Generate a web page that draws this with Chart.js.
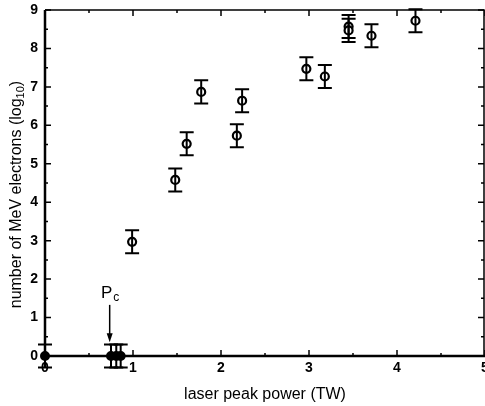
<!DOCTYPE html>
<html>
<head>
<meta charset="utf-8">
<script src="https://cdn.jsdelivr.net/npm/chart.js@4/dist/chart.umd.min.js"></script>
<style>
  html, body { margin: 0; padding: 0; background: #fff; }
  #wrap { width: 485px; height: 406px; }
</style>
</head>
<body>
<div id="wrap"><canvas id="c" width="485" height="406"></canvas></div>
<script>
// ---- data ----
const openPower = [0.99, 1.48, 1.61, 1.775, 2.18, 2.24, 2.97, 3.18, 3.45, 3.45, 3.71, 4.21];
const openElectrons = [2.97, 4.58, 5.52, 6.87, 5.73, 6.64, 7.47, 7.27, 8.57, 8.47, 8.33, 8.72];
const openErr = [0.3, 0.3, 0.3, 0.3, 0.3, 0.3, 0.3, 0.3, 0.3, 0.3, 0.3, 0.3];

const filledPower = [0.0, 0.75, 0.81, 0.86];
const filledElectrons = [0, 0, 0, 0];
const filledErr = [0.3, 0.3, 0.3, 0.3];

const xTicks = [0, 1, 2, 3, 4, 5];
const yTicks = [0, 1, 2, 3, 4, 5, 6, 7, 8, 9];

const xTitle = 'laser peak power (TW)';
const yTitleMain = 'number of MeV electrons (log';
const yTitleSub = '10';
const yTitleEnd = ')';
const annotLabel = 'P';
const annotSub = 'c';
// annotation anchor (data units)
const annot = { textX: 0.70, textY: 1.64, arrowX: 0.735, arrowFrom: 1.33, arrowTo: 0.36 };
const yTitleCenter = 4.2; // data units along y where the rotated title is centred

const FONT = '"Liberation Sans", Arial, sans-serif';
const toPts = (xs, ys) => xs.map((x, i) => ({ x: x, y: ys[i] }));

const errorBars = {
  id: 'errorBars',
  afterDatasetsDraw(chart) {
    const ctx = chart.ctx, xs = chart.scales.x, ys = chart.scales.y;
    ctx.save();
    ctx.strokeStyle = '#000';
    ctx.lineWidth = 2;
    chart.data.datasets.forEach(ds => {
      ds.data.forEach((p, i) => {
        const e = ds.errors[i];
        const px = xs.getPixelForValue(p.x);
        const y1 = ys.getPixelForValue(p.y + e);
        const y2 = ys.getPixelForValue(p.y - e);
        ctx.beginPath();
        ctx.moveTo(px, y1); ctx.lineTo(px, y2);
        ctx.moveTo(px - 7, y1); ctx.lineTo(px + 7, y1);
        ctx.moveTo(px - 7, y2); ctx.lineTo(px + 7, y2);
        ctx.stroke();
      });
    });
    ctx.restore();
  }
};

const frame = {
  id: 'frame',
  afterDraw(chart) {
    const ctx = chart.ctx, a = chart.chartArea, xs = chart.scales.x, ys = chart.scales.y;
    ctx.save();
    ctx.strokeStyle = '#000';
    // box
    ctx.lineWidth = 1.5;
    ctx.beginPath();
    ctx.moveTo(a.left, a.top); ctx.lineTo(a.right - 1, a.top); ctx.lineTo(a.right - 1, a.bottom);
    ctx.stroke();
    ctx.lineWidth = 2.5;
    ctx.beginPath();
    ctx.moveTo(a.left, a.top); ctx.lineTo(a.left, a.bottom); ctx.lineTo(a.right, a.bottom);
    ctx.stroke();
    // ticks inward
    ctx.lineWidth = 1.5;
    ctx.beginPath();
    for (let v = xs.min; v <= xs.max + 1e-9; v += 0.5) {
      const px = xs.getPixelForValue(v);
      const len = Math.abs(v - Math.round(v)) < 1e-6 ? 6 : 3;
      ctx.moveTo(px, a.bottom); ctx.lineTo(px, a.bottom - len);
      ctx.moveTo(px, a.top); ctx.lineTo(px, a.top + len);
    }
    for (let v = ys.min; v <= ys.max + 1e-9; v += 0.5) {
      const py = ys.getPixelForValue(v);
      const len = Math.abs(v - Math.round(v)) < 1e-6 ? 6 : 3;
      ctx.moveTo(a.left, py); ctx.lineTo(a.left + len, py);
      ctx.moveTo(a.right - 1, py); ctx.lineTo(a.right - 1 - len, py);
    }
    ctx.stroke();
    // annotation P_c with arrow
    const tx = xs.getPixelForValue(annot.textX), ty = ys.getPixelForValue(annot.textY);
    ctx.fillStyle = '#000';
    ctx.textBaseline = 'middle';
    ctx.textAlign = 'center';
    ctx.font = '17px ' + FONT;
    ctx.fillText(annotLabel, tx, ty);
    const w = ctx.measureText(annotLabel).width;
    ctx.font = '12px ' + FONT;
    ctx.textAlign = 'left';
    ctx.fillText(annotSub, tx + w / 2 + 1, ty + 5);
    const ax = xs.getPixelForValue(annot.arrowX);
    const ay1 = ys.getPixelForValue(annot.arrowFrom), ay2 = ys.getPixelForValue(annot.arrowTo);
    ctx.lineWidth = 1.5;
    ctx.beginPath(); ctx.moveTo(ax, ay1); ctx.lineTo(ax, ay2 - 6); ctx.stroke();
    ctx.beginPath();
    ctx.moveTo(ax, ay2); ctx.lineTo(ax - 3, ay2 - 9); ctx.lineTo(ax + 3, ay2 - 9); ctx.closePath();
    ctx.fill();

    // rotated y-axis title with subscript
    const cy = ys.getPixelForValue(yTitleCenter);
    ctx.translate(17, cy);
    ctx.rotate(-Math.PI / 2);
    ctx.textAlign = 'left';
    ctx.textBaseline = 'middle';
    const mainFont = '16px ' + FONT, subFont = '11px ' + FONT;
    ctx.font = mainFont; const w1 = ctx.measureText(yTitleMain).width;
    ctx.font = subFont; const w2 = ctx.measureText(yTitleSub).width;
    ctx.font = mainFont; const w3 = ctx.measureText(yTitleEnd).width;
    let x0 = -(w1 + w2 + w3) / 2;
    ctx.font = mainFont; ctx.fillText(yTitleMain, x0, 0); x0 += w1;
    ctx.font = subFont; ctx.fillText(yTitleSub, x0, 4); x0 += w2;
    ctx.font = mainFont; ctx.fillText(yTitleEnd, x0, 0);
    ctx.restore();
  }
};

const tickFont = { family: FONT, size: 14, weight: 'bold' };
const titleFont = { family: FONT, size: 16, weight: 'normal' };

new Chart(document.getElementById('c'), {
  type: 'scatter',
  data: {
    datasets: [
      {
        data: toPts(openPower, openElectrons), errors: openErr,
        pointRadius: 4, pointBorderWidth: 2.2, borderColor: '#000', backgroundColor: '#fff',
        pointHoverRadius: 4, showLine: false, clip: false
      },
      {
        data: toPts(filledPower, filledElectrons), errors: filledErr,
        pointRadius: 4, pointBorderWidth: 2, borderColor: '#000', backgroundColor: '#000',
        pointHoverRadius: 4, showLine: false, clip: false
      }
    ]
  },
  options: {
    responsive: false,
    animation: false,
    events: [],
    layout: { autoPadding: false, padding: { top: 10, right: 0, left: 0, bottom: 0 } },
    plugins: { legend: { display: false }, tooltip: { enabled: false } },
    scales: {
      x: {
        type: 'linear', min: 0, max: 5,
        afterBuildTicks: s => { s.ticks = xTicks.map(v => ({ value: v })); },
        afterFit: s => { s.height = 50; s.paddingLeft = 0; s.paddingRight = 0; },
        ticks: { color: '#000', font: tickFont, padding: 4, maxRotation: 0, autoSkip: false },
        grid: { display: false, drawTicks: false },
        border: { display: false },
        title: { display: true, text: xTitle, color: '#000', font: titleFont, padding: { top: 0, bottom: 2 } }
      },
      y: {
        type: 'linear', min: 0, max: 9,
        afterBuildTicks: s => { s.ticks = yTicks.map(v => ({ value: v })); },
        afterFit: s => { s.width = 45; s.paddingTop = 0; s.paddingBottom = 0; },
        ticks: { color: '#000', font: tickFont, padding: 7, autoSkip: false },
        grid: { display: false, drawTicks: false },
        border: { display: false },
        title: { display: false }
      }
    }
  },
  plugins: [errorBars, frame]
});
</script>
</body>
</html>
